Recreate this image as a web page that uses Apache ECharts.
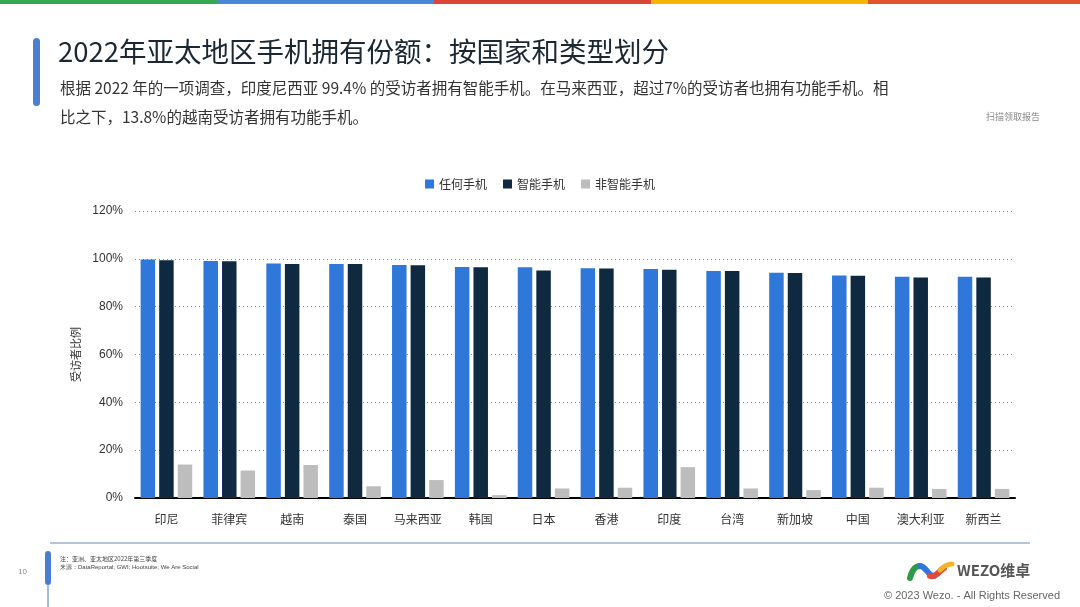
<!DOCTYPE html>
<html>
<head>
<meta charset="utf-8">
<script src="https://cdn.jsdelivr.net/npm/echarts@6/dist/echarts.min.js"></script>
<style>
  html, body { margin: 0; padding: 0; background: #fff; }
  #main { width: 1080px; height: 607px; }
</style>
</head>
<body>
<div id="main"></div>
<script>
// 国家/地区
var countries = ['印尼', '菲律宾', '越南', '泰国', '马来西亚', '韩国', '日本', '香港', '印度', '台湾', '新加坡', '中国', '澳大利亚', '新西兰'];
// 任何手机
var anyPhone = [99.7, 99.1, 98.0, 97.8, 97.4, 96.6, 96.5, 96.1, 95.7, 94.9, 94.2, 93.0, 92.5, 92.5];
// 智能手机
var smartPhone = [99.4, 99.0, 97.8, 97.8, 97.3, 96.5, 95.1, 96.0, 95.4, 94.9, 94.1, 92.9, 92.2, 92.2];
// 非智能手机
var featurePhone = [14.0, 11.5, 13.8, 4.9, 7.5, 1.2, 4.0, 4.3, 12.9, 4.0, 3.3, 4.3, 3.8, 3.8];
var seriesNames = ['任何手机', '智能手机', '非智能手机'];

var cjk = '"Noto Sans CJK SC", "Noto Sans", sans-serif';
var latin = '"Liberation Sans", Arial, sans-serif';

var charts = echarts.init(document.getElementById('main'));

// 顶部彩条
var stripColors = ['#34a853', '#4a86d6', '#db4437', '#f4b400', '#e0542f'];
var strip = stripColors.map(function (c, i) {
  return { type: 'rect', shape: { x: i * 217, y: 0, width: 217, height: 4 }, style: { fill: c } };
});

charts.setOption({
  animation: false,
  color: ['#2f77d8', '#0f2940', '#bdbdbd'],
  title: [
    {
      text: '2022年亚太地区手机拥有份额：按国家和类型划分',
      left: 53, top: 33,
      textStyle: { fontFamily: cjk, fontSize: 27.5, fontWeight: 'normal', color: '#1b2733' }
    },
    {
      text: '根据 2022 年的一项调查，印度尼西亚 99.4% 的受访者拥有智能手机。在马来西亚，超过7%的受访者也拥有功能手机。相\n比之下，13.8%的越南受访者拥有功能手机。',
      left: 55, top: 69,
      textStyle: { fontFamily: cjk, fontSize: 15.5, fontWeight: 'normal', color: '#333', lineHeight: 29 }
    },
    {
      text: '扫描领取报告',
      right: 35, top: 107,
      textStyle: { fontFamily: cjk, fontSize: 9, fontWeight: 'normal', color: '#888' }
    }
  ],
  legend: {
    top: 173, left: 'center',
    itemWidth: 9, itemHeight: 9, itemGap: 16,
    icon: 'rect',
    textStyle: { fontFamily: cjk, fontSize: 12, color: '#333' },
    data: seriesNames
  },
  grid: { left: 135, right: 65, top: 211, bottom: 109 },
  xAxis: {
    type: 'category',
    data: countries,
    axisLine: { lineStyle: { color: '#000', width: 2 } },
    axisTick: { show: false },
    axisLabel: { fontFamily: cjk, fontSize: 12, color: '#333', margin: 15 }
  },
  yAxis: {
    type: 'value',
    min: 0, max: 120, interval: 20,
    name: '受访者比例',
    nameLocation: 'middle',
    nameGap: 52,
    nameTextStyle: { fontFamily: cjk, fontSize: 11, color: '#333' },
    axisLabel: { formatter: '{value}%', fontFamily: latin, fontSize: 12, color: '#333', margin: 12 },
    axisLine: { show: false },
    axisTick: { show: false },
    splitLine: { lineStyle: { type: [1, 3], color: '#8a8a8a', width: 1 } }
  },
  series: [
    { name: seriesNames[0], type: 'bar', data: anyPhone, barWidth: 14.5, barGap: '28%' },
    { name: seriesNames[1], type: 'bar', data: smartPhone, barWidth: 14.5, barGap: '28%' },
    { name: seriesNames[2], type: 'bar', data: featurePhone, barWidth: 14.5, barGap: '28%' }
  ],
  graphic: strip.concat([
    // 标题左侧竖条
    { type: 'rect', shape: { x: 33, y: 38, width: 7, height: 68, r: 3.5 }, style: { fill: '#4a7fd0' } },
    // 底部分隔线
    { type: 'line', shape: { x1: 50, y1: 543, x2: 1030, y2: 543 }, style: { stroke: '#9fb0c8', lineWidth: 1.5 } },
    // 左下竖条
    { type: 'rect', shape: { x: 45, y: 551, width: 6, height: 34, r: 3 }, style: { fill: '#4a7fd0' } },
    { type: 'line', shape: { x1: 48, y1: 585, x2: 48, y2: 607 }, style: { stroke: '#6f8fc8', lineWidth: 1.2 } },
    { type: 'text', left: 18, top: 568, style: { text: '10', font: '8px ' + latin, fill: '#888' } },
    { type: 'text', left: 60, top: 556, style: { text: '注：亚洲、亚太地区2022年第三季度', font: '6px ' + cjk, fill: '#444' } },
    { type: 'text', left: 60, top: 564, style: { text: '来源：DataReportal; GWI; Hootsuite; We Are Social', font: '6px ' + latin, fill: '#444' } },
    // 标志
    { type: 'bezierCurve', shape: { x1: 910, y1: 578, x2: 920, y2: 566, cpx1: 912, cpy1: 570, cpx2: 916, cpy2: 566 }, style: { stroke: '#2f9a4a', lineWidth: 6, lineCap: 'round', fill: null } },
    { type: 'bezierCurve', shape: { x1: 920, y1: 566, x2: 934, y2: 576, cpx1: 926, cpy1: 566, cpx2: 928, cpy2: 576 }, style: { stroke: '#2f77d8', lineWidth: 6, lineCap: 'round', fill: null } },
    { type: 'bezierCurve', shape: { x1: 930, y1: 576, x2: 944, y2: 568, cpx1: 936, cpy1: 578, cpx2: 940, cpy2: 570 }, style: { stroke: '#e04a3a', lineWidth: 6, lineCap: 'round', fill: null } },
    { type: 'bezierCurve', shape: { x1: 940, y1: 570, x2: 952, y2: 564, cpx1: 944, cpy1: 566, cpx2: 948, cpy2: 564 }, style: { stroke: '#f2b52a', lineWidth: 5, lineCap: 'round', fill: null } },
    { type: 'text', left: 957, top: 563, style: { text: 'WEZO维卓', font: 'bold 15px ' + cjk, fill: '#555' } },
    { type: 'text', right: 20, top: 590, style: { text: '© 2023 Wezo. - All Rights Reserved', font: '11px ' + latin, fill: '#666' } }
  ])
});
</script>
</body>
</html>
